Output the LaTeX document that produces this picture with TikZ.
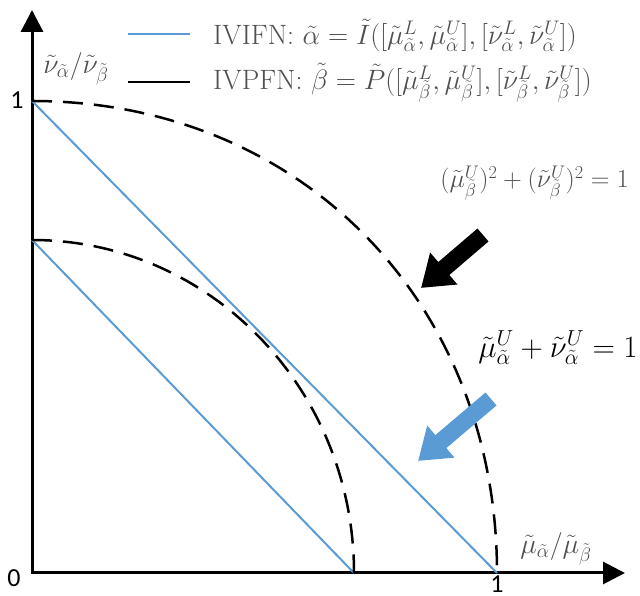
\documentclass[tikz,border=0pt]{standalone}
\usepackage{fix-cm}
\usepackage{fontspec}
\newfontfamily\numfont{Carlito}
\usetikzlibrary{arrows.meta}
\definecolor{lblue}{HTML}{5B9BD5}
\definecolor{tgray}{HTML}{505050}
\tikzset{
  axis/.style={line width=3pt,{Triangle[length=22pt,width=22pt]}-{Triangle[length=22pt,width=22pt]}},
  ivifn/.style={lblue,line width=2pt},
  arcd/.style={black,line width=2.5pt,dash pattern=on 20pt off 11pt},
  tick/.style={font=\numfont\fontsize{26}{30}\selectfont,inner sep=0pt},
  lbl/.style={text=tgray,font=\fontsize{28}{32}\selectfont,inner sep=0pt},
  blockarrow/.style={line width=17pt,-{Triangle[length=30pt,width=40pt]}},
}
\begin{document}
\begin{tikzpicture}[x=1pt,y=1pt]
\useasboundingbox (0,0) rectangle (640,596);
% axes
\coordinate (ytop) at (32,586);
\coordinate (O) at (32,23);
\coordinate (xend) at (625,23);
\draw[axis] (ytop) -- (O) -- (xend);
\coordinate (Y1) at (32,495);
\coordinate (X1) at (497,23);
\coordinate (Yi) at (32,356);
\coordinate (Xi) at (354,23);
% blue lines
\draw[ivifn] (Y1) -- (X1);
\draw[ivifn] (Yi) -- (Xi);
% dashed arcs
\draw[arcd] (Y1) .. controls (300,495) and (497,294) .. (X1);
\draw[arcd] (Yi) arc[start angle=90,end angle=0,x radius=322pt,y radius=333pt];
% tick labels
\node[tick] (t1y) at (17,496) {1};
\node[tick] (t0) at (14,18) {0};
\node[tick,anchor=base] (t1x) at (497,3) {1};
% axis labels
\node[lbl] (ylab) at (76,527) {$\tilde{\nu}_{\tilde{\alpha}}/\tilde{\nu}_{\tilde{\beta}}$};
\node[lbl] (xlab) at (556,47) {$\tilde{\mu}_{\tilde{\alpha}}/\tilde{\mu}_{\tilde{\beta}}$};
% legend
\coordinate (lb1) at (128,562); \coordinate (lb2) at (190,562);
\coordinate (lk1) at (128,514); \coordinate (lk2) at (190,514);
\draw[ivifn] (lb1) -- (lb2);
\draw[black,line width=2pt] (lk1) -- (lk2);
\node[lbl,anchor=west] (leg1) at (213,561) {IVIFN: $\tilde{\alpha}=\tilde{I}([\tilde{\mu}^{L}_{\tilde{\alpha}},\tilde{\mu}^{U}_{\tilde{\alpha}}],[\tilde{\nu}^{L}_{\tilde{\alpha}},\tilde{\nu}^{U}_{\tilde{\alpha}}])$};
\node[lbl,anchor=west] (leg2) at (213,513) {IVPFN: $\tilde{\beta}=\tilde{P}([\tilde{\mu}^{L}_{\tilde{\beta}},\tilde{\mu}^{U}_{\tilde{\beta}}],[\tilde{\nu}^{L}_{\tilde{\beta}},\tilde{\nu}^{U}_{\tilde{\beta}}])$};
% formulas
\node[lbl,font=\fontsize{26}{30}\selectfont,anchor=east] (eqp) at (629,413) {$(\tilde{\mu}^{U}_{\tilde{\beta}})^2+(\tilde{\nu}^{U}_{\tilde{\beta}})^2=1$};
\node[lbl,text=black,font=\fontsize{31}{36}\selectfont] (eqi) at (558,248) {$\tilde{\mu}^{U}_{\tilde{\alpha}}+\tilde{\nu}^{U}_{\tilde{\alpha}}=1$};
% block arrows
\coordinate (ka) at (483,361); \coordinate (kb) at (421,308);
\draw[blockarrow,black] (ka) -- (kb);
\coordinate (ba) at (491,197); \coordinate (bb) at (418,135);
\draw[blockarrow,lblue] (ba) -- (bb);
\end{tikzpicture}
\end{document}
